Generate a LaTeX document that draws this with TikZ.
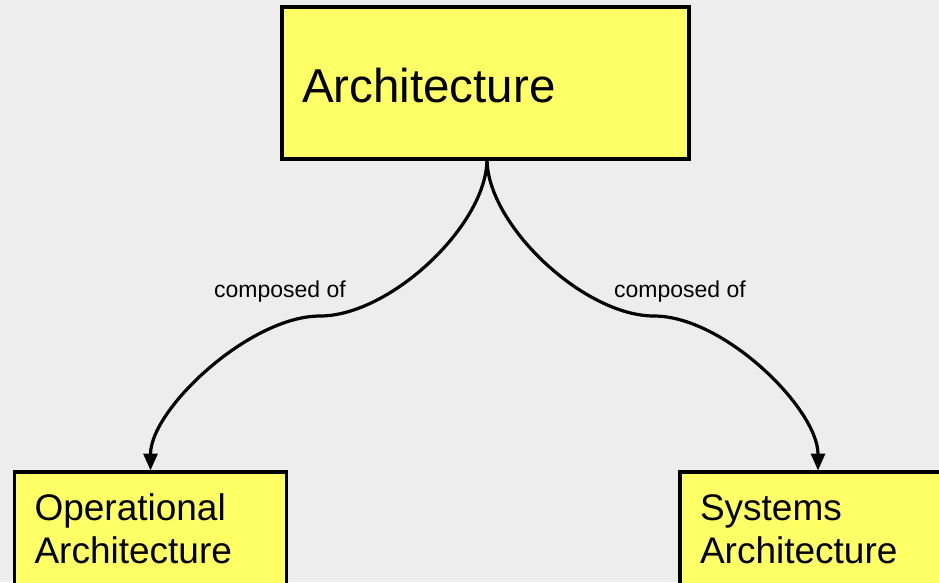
\documentclass[tikz,border=0pt]{standalone}
\usepackage{fontspec}
\setmainfont{Liberation Sans}
\usepackage{tikz}
\usetikzlibrary{arrows.meta, positioning}
\definecolor{canvas}{HTML}{ECEDEC}
\definecolor{boxyellow}{HTML}{FFFF66}
\tikzset{
  archbox/.style={
    rectangle, draw=black, fill=boxyellow, line width=3.5pt,
    outer sep=0pt, align=left, anchor=north west
  },
  partbox/.style={
    archbox, inner xsep=20pt, inner ysep=21pt,
    text height=27pt, text depth=80pt,
    font=\fontsize{37}{43}\selectfont
  },
  composed/.style={
    -{Triangle[length=17pt, width=14pt]}, line width=3.2pt, color=black,
    shorten >=1.5pt
  },
  linklabel/.style={
    font=\fontsize{23}{27}\selectfont, inner sep=0pt, anchor=base
  }
}

\begin{document}
\begin{tikzpicture}[x=1pt, y=-1pt]

  % ── Canvas ─────────────────────────────────────────────
  \useasboundingbox (0,0) rectangle (939,582);
  \fill[canvas] (0,0) rectangle (939,582);
  \clip (0,0) rectangle (939,582);

  % ── Boxes ──────────────────────────────────────────────
  \node[archbox, minimum width=407pt, minimum height=152pt,
        text width=367pt, inner xsep=20pt,
        text height=38pt, text depth=0pt,
        font=\fontsize{47.5}{54}\selectfont] (arch) at (282,7) {Architecture};
  \node[partbox, text width=232pt] (opbox)  at (14.5,472) {Operational\\Architecture};
  \node[partbox, text width=236pt] (sysbox) at (680,472)  {Systems\\Architecture};

  % turning points of the links
  \coordinate (lmid) at (320,316);
  \coordinate (rmid) at (654,316);

  % ── Links ──────────────────────────────────────────────
  \draw[composed] ([xshift=1.5pt]arch.south) .. controls +(0,66) and +(70,0) .. (lmid)
                  .. controls +(-70,0) and +(0,-63) .. (opbox.north);
  \draw[composed] ([xshift=1.5pt]arch.south) .. controls +(0,66) and +(-70,0) .. (rmid)
                  .. controls +(70,0) and +(0,-63) .. (sysbox.north);

  % link labels
  \node[linklabel] (lcomp) at (280,297) {composed of};
  \node[linklabel] (rcomp) at (680,297) {composed of};

\end{tikzpicture}
\end{document}
